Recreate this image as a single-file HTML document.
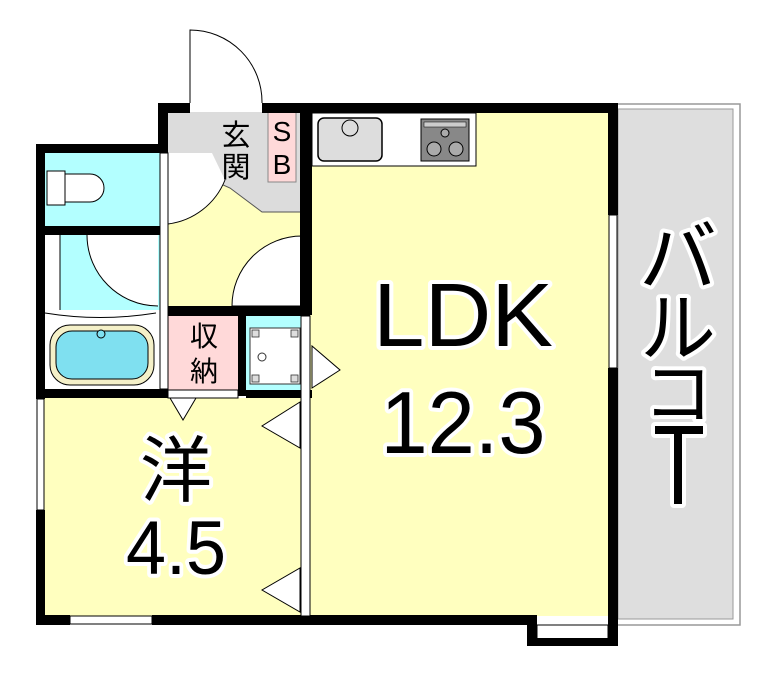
<!DOCTYPE html>
<html><head><meta charset="utf-8"><style>
html,body{margin:0;padding:0;background:#fff;}
svg{display:block}
.t{font-family:"Liberation Sans","Noto Sans CJK JP",sans-serif;fill:#000;stroke:#fff;stroke-width:8;paint-order:stroke;stroke-linejoin:round}
.s{font-family:"Liberation Sans","Noto Sans CJK JP",sans-serif;fill:#000}
</style></head><body>
<svg width="772" height="676" viewBox="0 0 772 676" xmlns="http://www.w3.org/2000/svg">
<rect x="614" y="104" width="126" height="521" fill="#fff" stroke="#999" stroke-width="1.5"/>
<rect x="618" y="109" width="115" height="510" fill="#dedede" stroke="#999" stroke-width="1"/>
<rect x="310" y="112" width="300" height="504" fill="#ffffbf"/>
<rect x="44" y="398" width="260" height="218" fill="#ffffbf"/>
<rect x="166" y="112" width="138" height="200" fill="#ffffbf"/>
<polygon points="166,112 304,112 304,212 262,212 230,188 212,180 166,180" fill="#dcdcdc"/>
<polyline points="212,180 230,188 262,212 304,212" fill="none" stroke="#555" stroke-width="1"/>
<path d="M168,153 L168,224 A71,71 0 0 0 225,180 L212,153 Z" fill="#fff" stroke="none"/>
<path d="M168,224 A71,71 0 0 0 225,180" fill="none" stroke="#000" stroke-width="1"/>
<rect x="268" y="112" width="28" height="70" fill="#ffd9d9" stroke="#888" stroke-width="1"/>
<rect x="44" y="152" width="116" height="76" fill="#b3ffff"/>
<rect x="44" y="234" width="116" height="76" fill="#b3ffff"/>
<rect x="44" y="234" width="16" height="76" fill="#fff"/>
<line x1="60" y1="234" x2="60" y2="310" stroke="#000" stroke-width="1"/>
<path d="M87,235 C87,274 119,306 158,306 L158,235 Z" fill="#fff" stroke="none"/>
<path d="M87,235 C87,274 119,306 158,306" fill="none" stroke="#000" stroke-width="1"/>
<rect x="44" y="310" width="116" height="82" fill="#fff"/>
<rect x="168" y="316" width="70" height="74" fill="#ffd9d9"/>
<rect x="246" y="316" width="56" height="74" fill="#b3ffff"/>
<rect x="250" y="328" width="50" height="56" fill="#fff" stroke="#333" stroke-width="1"/>
<g fill="#ddd" stroke="#333" stroke-width=".8">
<rect x="252" y="330" width="7" height="7"/><rect x="291" y="330" width="7" height="7"/>
<rect x="252" y="375" width="7" height="7"/><rect x="291" y="375" width="7" height="7"/></g>
<circle cx="262" cy="357" r="4" fill="none" stroke="#333"/>
<path d="M190,103 L190,30 A72,72 0 0 1 262,103" fill="#fff" stroke="#000" stroke-width="1"/>
<path d="M302,236 A70,70 0 0 0 232,306 L302,306 Z" fill="#fff" stroke="#000" stroke-width="1"/>
<rect x="47" y="171" width="18" height="34" fill="#fff" stroke="#000"/>
<path d="M65,174 L90,174 A14,14 0 0 1 90,202 L65,202 Z" fill="#fff" stroke="#000"/>
<path d="M45,313 Q100,322 156,313" fill="none" stroke="#000"/>
<rect x="50" y="325" width="104" height="60" rx="20" fill="#f4f0c8" stroke="#000"/>
<rect x="56" y="331" width="92" height="48" rx="16" fill="#7fe0f0" stroke="#000"/>
<circle cx="101" cy="334" r="4" fill="#7fe0f0" stroke="#000"/>
<rect x="312" y="113" width="164" height="53" fill="#fff" stroke="#000" stroke-width="1"/>
<rect x="318" y="118" width="64" height="43" rx="6" fill="#ddd" stroke="#000" stroke-width="1.5"/>
<circle cx="350" cy="128" r="8" fill="#ddd" stroke="#000"/>
<rect x="421" y="119" width="48" height="42" fill="#888" stroke="#000"/>
<rect x="424" y="122" width="42" height="5" fill="#ccc" stroke="#000" stroke-width=".5"/>
<circle cx="434" cy="149" r="7" fill="#aaa" stroke="#000"/>
<circle cx="456" cy="149" r="7" fill="#aaa" stroke="#000"/>
<circle cx="445" cy="133" r="4" fill="#aaa" stroke="#000"/>
<g fill="#000">
<rect x="158" y="103" width="32" height="10"/>
<rect x="262" y="103" width="356" height="10"/>
<rect x="158" y="103" width="10" height="50"/>
<rect x="36" y="144" width="130" height="9"/>
<rect x="36" y="144" width="9" height="255"/>
<rect x="36" y="510" width="9" height="115"/>
<rect x="36" y="226" width="130" height="9"/>
<rect x="36" y="389" width="130" height="9"/>
<rect x="158" y="389" width="10" height="9"/>
<rect x="160" y="306" width="150" height="10"/>
<rect x="238" y="316" width="8" height="80"/>
<rect x="300" y="103" width="12" height="212"/>
<rect x="36" y="615" width="34" height="10"/>
<rect x="152" y="615" width="385" height="10"/>
<rect x="608" y="103" width="10" height="112"/>
<rect x="608" y="368" width="10" height="278"/>
<rect x="527" y="615" width="10" height="31"/>
<rect x="246" y="390" width="66" height="8"/>
</g>
<rect x="160" y="153" width="8" height="236" fill="#fff" stroke="#000" stroke-width="1"/>
<rect x="301" y="316" width="9" height="300" fill="#fff" stroke="#000" stroke-width="1"/>
<rect x="609" y="215" width="8" height="153" fill="#fff" stroke="#000" stroke-width="1"/>
<rect x="37" y="399" width="7" height="111" fill="#fff" stroke="#000" stroke-width="1"/>
<rect x="70" y="616" width="82" height="8" fill="#fff" stroke="#000" stroke-width="1"/>
<rect x="537" y="625" width="71" height="20" fill="#fff" stroke="#000" stroke-width="1"/>
<rect x="537" y="638" width="71" height="8" fill="#000"/>
<rect x="168" y="390" width="70" height="8" fill="#fff" stroke="#000" stroke-width="1"/>
<polygon points="170,398 196,398 183,420" fill="#fff" stroke="#000"/>
<polygon points="300,402 300,448 262,426" fill="#fff" stroke="#000"/>
<polygon points="300,568 300,612 262,590" fill="#fff" stroke="#000"/>
<polygon points="312,346 312,388 340,370" fill="#fff" stroke="#000"/>
<text class="s" x="236" y="145" font-size="29" text-anchor="middle">玄</text>
<text class="s" x="236" y="177" font-size="29" text-anchor="middle">関</text>
<text class="s" x="282" y="141" font-size="28" text-anchor="middle">S</text>
<text class="s" x="282" y="174" font-size="28" text-anchor="middle">B</text>
<text class="s" x="204" y="346" font-size="28" text-anchor="middle">収</text>
<text class="s" x="204" y="381" font-size="28" text-anchor="middle">納</text>
<text class="t" x="463" y="346" font-size="90" text-anchor="middle" textLength="180" lengthAdjust="spacingAndGlyphs">LDK</text>
<text class="t" x="463" y="453" font-size="88" text-anchor="middle" textLength="165" lengthAdjust="spacingAndGlyphs">12.3</text>
<text class="t" x="176" y="496" font-size="72" text-anchor="middle">洋</text>
<text class="t" x="176" y="574" font-size="76" text-anchor="middle" textLength="100" lengthAdjust="spacingAndGlyphs">4.5</text>
<text class="t" x="678" y="285" font-size="78" text-anchor="middle">バ</text>
<text class="t" x="678" y="355" font-size="76" text-anchor="middle">ル</text>
<text class="t" x="678" y="418" font-size="70" text-anchor="middle">コ</text>
<g stroke="#fff" stroke-width="8" stroke-linejoin="round"><rect x="655" y="426" width="48" height="8" fill="#000"/><rect x="674" y="434" width="8" height="70" fill="#000"/></g>
<rect x="655" y="426" width="48" height="8" fill="#000"/><rect x="674" y="434" width="8" height="70" fill="#000"/>
</svg>
</body></html>
